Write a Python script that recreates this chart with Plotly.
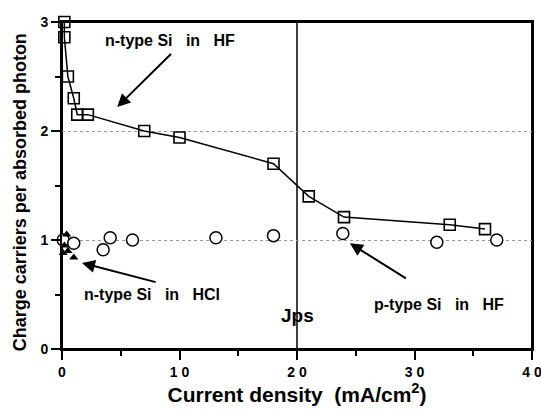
import plotly.graph_objects as go

# n-type Si in HF (squares, connected)
nhf_x = [0.2, 0.2, 0.5, 1.0, 1.3, 2.2, 7.0, 10.0, 18.0, 21.0, 24.0, 33.0, 36.0]
nhf_y = [3.0, 2.86, 2.5, 2.3, 2.15, 2.15, 2.0, 1.94, 1.7, 1.40, 1.21, 1.14, 1.10]

# p-type Si in HF (open circles)
phf_x = [0.1, 1.0, 3.5, 4.1, 6.0, 13.1, 18.0, 23.9, 31.9, 37.0]
phf_y = [1.0, 0.97, 0.91, 1.02, 1.0, 1.02, 1.04, 1.06, 0.98, 1.0]

# n-type Si in HCl (filled triangles)
nhcl_x = [0.1, 0.2, 0.4, 0.5, 1.0]
nhcl_y = [0.88, 0.95, 1.05, 0.90, 0.84]

x_ticks = [0, 10, 20, 30, 40]
x_tick_text = ["0", "1 0", "2 0", "3 0", "4 0"]
y_ticks = [0, 1, 2, 3]
jps = 20

FONT = "Liberation Sans, Arial, sans-serif"
NB = "\u00a0"

fig = go.Figure()
fig.add_trace(go.Scatter(x=nhf_x, y=nhf_y, mode="lines+markers",
                         line=dict(color="black", width=1.5),
                         marker=dict(symbol="square-open", size=11, color="black",
                                     line=dict(width=1.6)),
                         cliponaxis=False, showlegend=False))
fig.add_trace(go.Scatter(x=phf_x, y=phf_y, mode="markers",
                         marker=dict(symbol="circle", size=12, color="white",
                                     line=dict(color="black", width=1.5)),
                         cliponaxis=False, showlegend=False))
fig.add_trace(go.Scatter(x=nhcl_x, y=nhcl_y, mode="markers",
                         marker=dict(symbol="triangle-up", size=8, color="black"),
                         cliponaxis=False, showlegend=False))

fig.add_shape(type="line", x0=jps, x1=jps, y0=0, y1=3, xref="x", yref="y",
              line=dict(color="black", width=1.5), layer="below")
fig.add_shape(type="rect", x0=0, x1=1, y0=0, y1=1, xref="paper", yref="paper",
              line=dict(color="black", width=2), layer="below")

ann_font = dict(family=FONT, size=16, color="black", weight="bold")
arrow_common = dict(showarrow=True, arrowhead=2, arrowsize=1.3, arrowwidth=2,
                    arrowcolor="black", axref="x", ayref="y")
sp = NB * 3
fig.add_annotation(x=9.2, y=2.83, text=f"n-type{NB}Si{sp}in{sp}HF",
                   showarrow=False, font=ann_font)
fig.add_annotation(x=4.7, y=2.22, ax=9.4, ay=2.72, text="", **arrow_common)
fig.add_annotation(x=7.7, y=0.50, text=f"n-type{NB}Si{sp}in{sp}HCl",
                   showarrow=False, font=ann_font)
fig.add_annotation(x=1.7, y=0.79, ax=8.1, ay=0.61, text="", **arrow_common)
fig.add_annotation(x=32.1, y=0.41, text=f"p-type{NB}Si{sp}in{sp}HF",
                   showarrow=False, font=ann_font)
fig.add_annotation(x=24.5, y=0.97, ax=29.4, ay=0.64, text="", **arrow_common)
fig.add_annotation(x=20, y=0.31, text="Jps", showarrow=False,
                   font=dict(family=FONT, size=19, color="black", weight="bold"))
# y-axis title
fig.add_annotation(xref="paper", yref="paper", x=-0.089, y=0.48, textangle=-90,
                   xanchor="center", yanchor="middle",
                   text="Charge carriers per absorbed photon", showarrow=False,
                   font=dict(family=FONT, size=18, color="black", weight="bold"))

fig.update_layout(
    width=541, height=411,
    margin=dict(l=62, r=9, t=22, b=62),
    plot_bgcolor="white", paper_bgcolor="white",
    font=dict(family=FONT, color="black"),
    xaxis=dict(range=[0, 40], tickvals=x_ticks, ticktext=x_tick_text,
               automargin=False, ticklabeloverflow="allow",
               ticks="outside", ticklen=9, tickwidth=1.5, tickcolor="black",
               minor=dict(dtick=5, ticks="outside", ticklen=5, tickwidth=1.5, tickcolor="black"),
               showline=True, linecolor="black", linewidth=2, mirror=True,
               showgrid=False, zeroline=False,
               tickfont=dict(family=FONT, size=14, weight="bold"),
               title=dict(text=f"Current density{NB}{NB}(mA/cm<sup>2</sup>)", standoff=4,
                          font=dict(family=FONT, size=21, weight="bold"))),
    yaxis=dict(range=[0, 3], tickvals=y_ticks, automargin=False,
               ticks="outside", ticklen=9, tickwidth=1.5, tickcolor="black",
               minor=dict(dtick=0.5, ticks="outside", ticklen=5, tickwidth=1.5, tickcolor="black"),
               showline=True, linecolor="black", linewidth=2, mirror=True,
               showgrid=True, gridcolor="#999999", griddash="dot", gridwidth=1,
               zeroline=False,
               tickfont=dict(family=FONT, size=14, weight="bold")),
)

fig.write_html("out.html", config={"displayModeBar": False},
               post_script="document.body.style.margin='0';document.body.style.overflow='hidden';")
